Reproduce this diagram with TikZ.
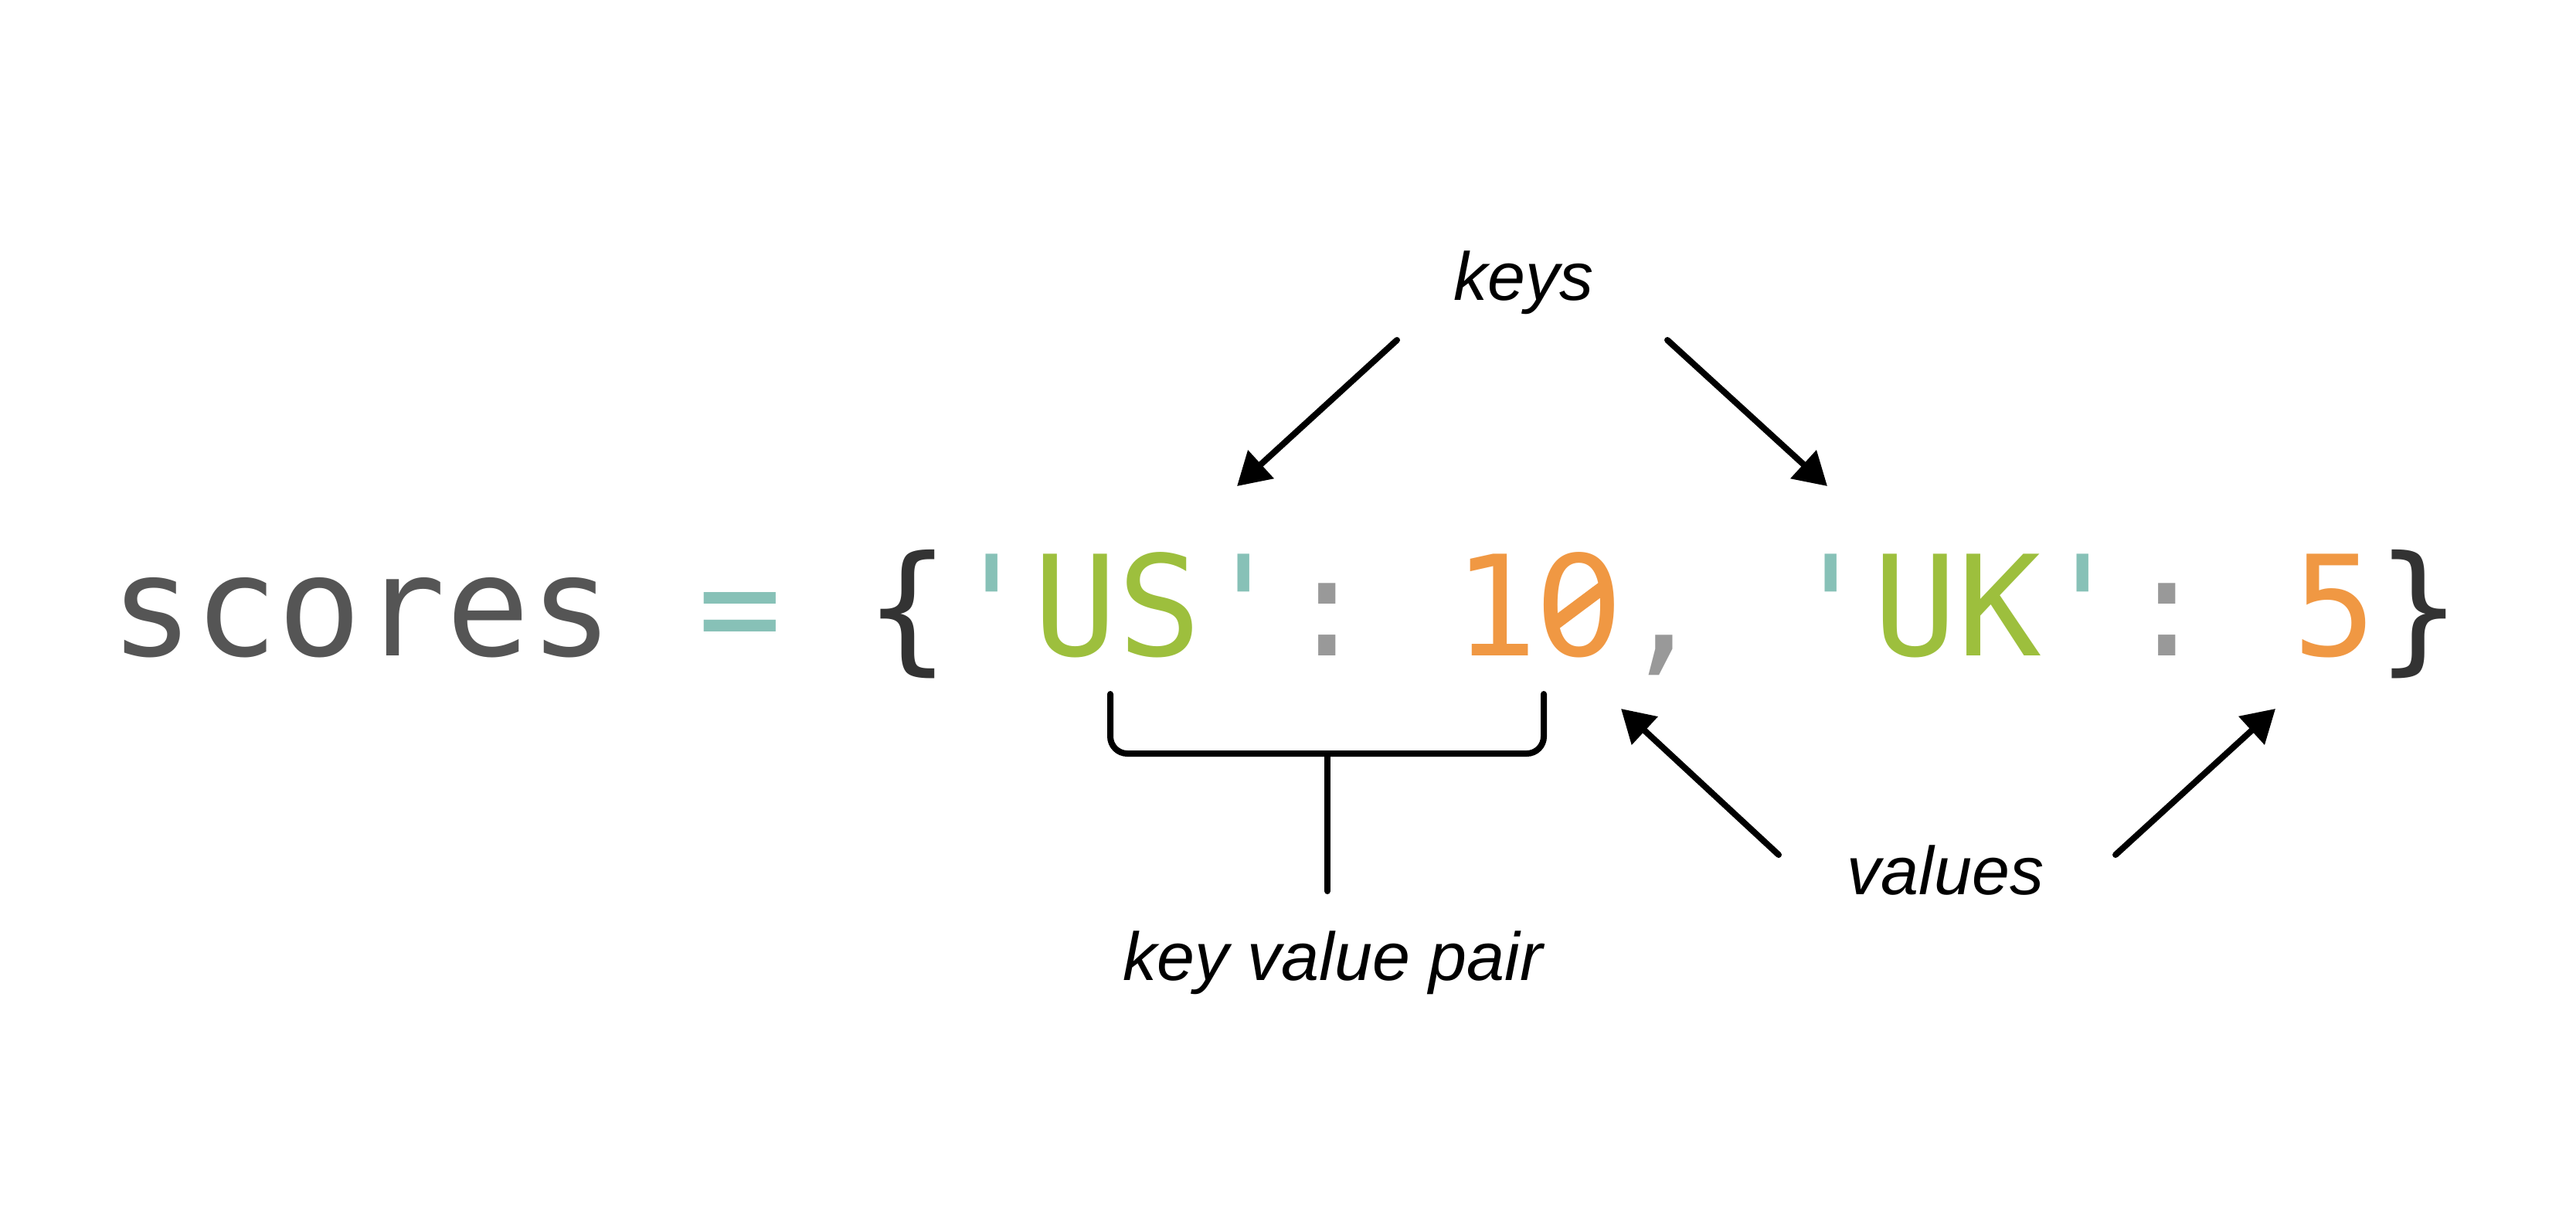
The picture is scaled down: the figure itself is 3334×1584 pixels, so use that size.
\documentclass[tikz,border=0pt]{standalone}
\usepackage{fontspec}
\setmonofont{DejaVu Sans Mono}
\setsansfont{Liberation Sans}
\newfontfamily\zerofont{DejaVu Sans}
\usetikzlibrary{arrows.meta}
\definecolor{cvar}{HTML}{555555}
\definecolor{cop}{HTML}{87C1B7}
\definecolor{cbrace}{HTML}{333333}
\definecolor{ckey}{HTML}{9DBF3D}
\definecolor{cpunct}{HTML}{999999}
\definecolor{cnum}{HTML}{F09843}
\newcommand{\slzero}{\sbox0{0}\makebox[\wd0][c]{\zerofont 0}}
\begin{document}
\begin{tikzpicture}[x=0.3pt,y=-0.3pt,
  codefont/.style={font=\ttfamily\fontsize{54.15}{60}\selectfont, inner sep=0pt, anchor=base west},
  lbl/.style={font=\sffamily\itshape\fontsize{26.4}{30}\selectfont, inner sep=0pt, anchor=base},
  conn/.style={line width=2.4pt, line cap=round, black},
  arr/.style={conn, -{Triangle[length=12.6pt,width=14.4pt]}},
  zslash/.style={line width=5.1pt, cnum}]
\useasboundingbox[fill=white] (0,0) rectangle (3334,1584);
\node[codefont] (code) at (141.8,848) {\textcolor{cvar}{scores} \textcolor{cop}{=} \textcolor{cbrace}{\{}\textcolor{cop}{'}\textcolor{ckey}{US}\textcolor{cop}{'}\textcolor{cpunct}{:} \textcolor{cnum}{1\slzero}\textcolor{cpunct}{,} \textcolor{cop}{'}\textcolor{ckey}{UK}\textcolor{cop}{'}\textcolor{cpunct}{:} \textcolor{cnum}{5}\textcolor{cbrace}{\}}};
% slash of the zero
\coordinate (z1) at (2079,757);
\coordinate (z2) at (2008,810);
\draw[zslash] (z1) -- (z2);
\node[lbl] (keys) at (1972,388) {keys};
\node[lbl] (values) at (2518,1157) {values};
\node[lbl] (pair) at (1725,1268) {key value pair};
% arrow ends
\coordinate (k1s) at (1808,440);
\coordinate (k1e) at (1601,629);
\coordinate (k2s) at (2158,440);
\coordinate (k2e) at (2365,629);
\coordinate (v1s) at (2302,1106);
\coordinate (v1e) at (2098,917);
\coordinate (v2s) at (2738,1106);
\coordinate (v2e) at (2945,917);
\coordinate (bl) at (1437,898);
\coordinate (br) at (1998,898);
\coordinate (bm) at (1718,975);
\coordinate (bs) at (1718,1153);
\draw[arr] (k1s) -- (k1e);
\draw[arr] (k2s) -- (k2e);
\draw[arr] (v1s) -- (v1e);
\draw[arr] (v2s) -- (v2e);
\draw[conn, rounded corners=6.6pt] (bl) |- (bm) -| (br);
\draw[conn] (bm) -- (bs);
\end{tikzpicture}
\end{document}
